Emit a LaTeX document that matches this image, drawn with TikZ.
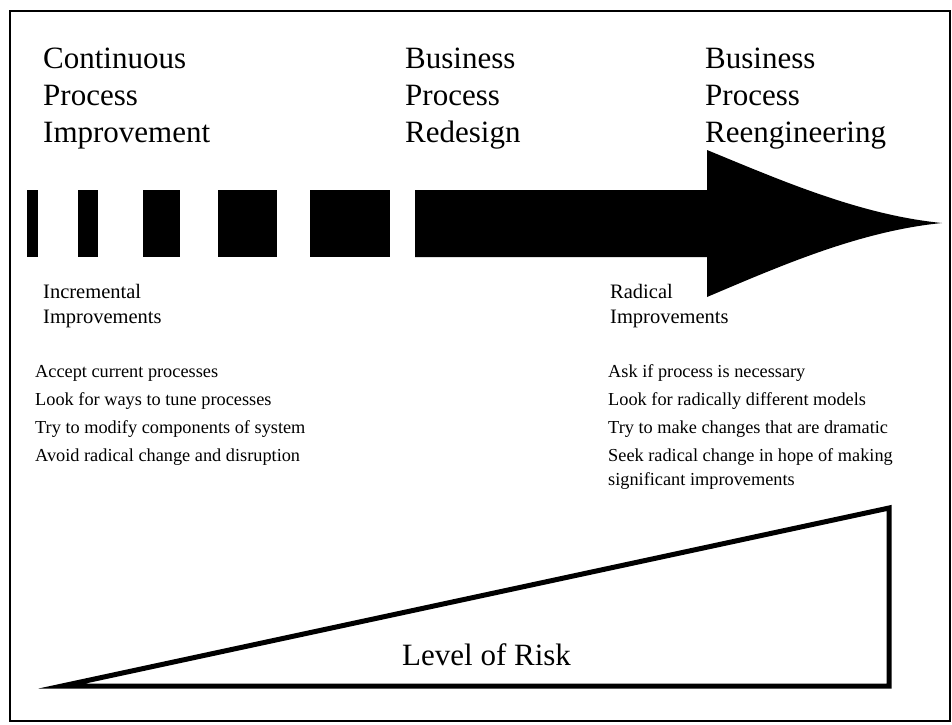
\documentclass[tikz,border=0pt]{standalone}
\usepackage{fontspec}
\setmainfont{Liberation Serif}
\usepackage{tikz}

\tikzset{
  head/.style={anchor=base west, inner sep=0pt, align=left, font=\fontsize{31}{37}\selectfont},
  sub/.style={anchor=base west, inner sep=0pt, align=left, font=\fontsize{20.5}{25}\selectfont},
  item/.style={anchor=base west, inner sep=0pt, align=left, font=\fontsize{18.3}{24}\selectfont}
}

\begin{document}
\begin{tikzpicture}[x=1pt,y=-1pt]
				\useasboundingbox (0,0) rectangle (952,724);
				\draw[line width=1.5pt] (10,11) rectangle (950,721);
				% headings (base = last line)
				\node[head] (cpi) at (43,142) {Continuous\\Process\\Improvement};
				\node[head] (bpd) at (405,142) {Business\\Process\\Redesign};
				\node[head] (bpr) at (705,142) {Business\\Process\\Reengineering};
				% dashed arrow
				\fill (27,190) rectangle (38,257);
				\fill (78,190) rectangle (98,257);
				\fill (143,190) rectangle (180,257);
				\fill (218,190) rectangle (277,257);
				\fill (310,190) rectangle (390,257);
				\fill (415,190) -- (707,190) -- (707,150) .. controls (780,180) and (860,215) .. (942,223)
					.. controls (860,231) and (780,266) .. (707,297) -- (707,257) -- (415,257) -- cycle;
				% left column
				\node[sub] (inc) at (43,323) {Incremental\\Improvements};
				\node[item] (acc) at (35,377) {Accept current processes};
				\node[item] (tune) at (35,405) {Look for ways to tune processes};
				\node[item] (mod) at (35,433) {Try to modify components of system};
				\node[item] (avoid) at (35,461) {Avoid radical change and disruption};
				% right column
				\node[sub] (rad) at (610,323) {Radical\\Improvements};
				\node[item] (ask) at (608,377) {Ask if process is necessary};
				\node[item] (models) at (608,405) {Look for radically different models};
				\node[item] (drama) at (608,433) {Try to make changes that are dramatic};
				\node[item] (seek) at (608,485) {Seek radical change in hope of making\\significant improvements};
				% risk wedge
				\draw[line width=5pt, line join=miter] (62,686) -- (889,508) -- (889,686) -- cycle;
				\node[anchor=base west, inner sep=0pt, font=\fontsize{31}{37}\selectfont] (risk) at (402,665) {Level of Risk};
\end{tikzpicture}
\end{document}
